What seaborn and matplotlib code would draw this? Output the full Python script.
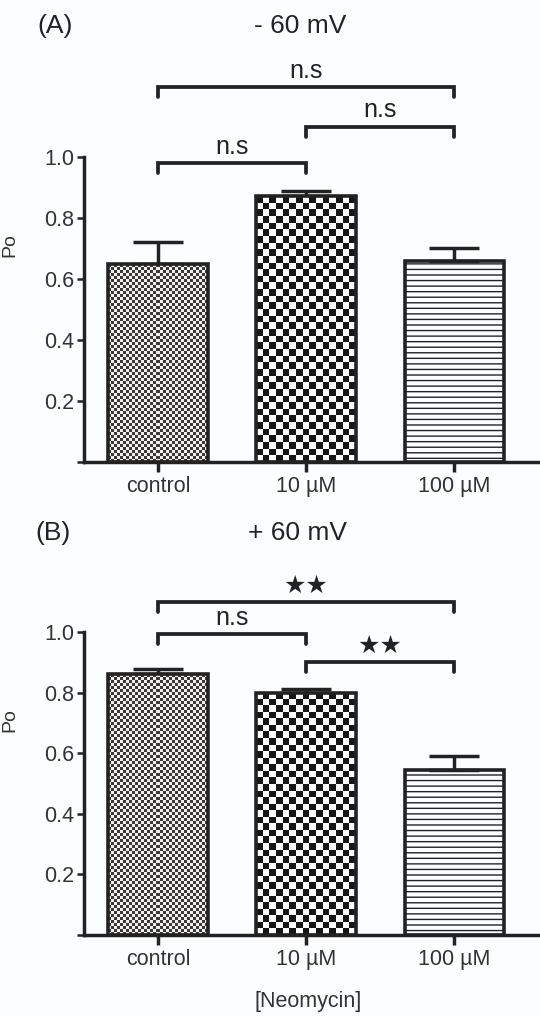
import numpy as np
import pandas as pd
import seaborn as sns
import matplotlib.pyplot as plt
from matplotlib.colors import ListedColormap

# datos
groups = ['control', '10 µM', '100 µM']
po_neg60 = [0.648, 0.872, 0.659]
err_neg60 = [0.074, 0.017, 0.043]
po_pos60 = [0.861, 0.799, 0.545]
err_pos60 = [0.017, 0.013, 0.046]

# comparaciones (índice a, índice b, etiqueta)
comp_neg60 = [(0, 1, 'n.s'), (1, 2, 'n.s'), (0, 2, 'n.s')]
comp_pos60 = [(0, 1, 'n.s'), (1, 2, '★★'), (0, 2, '★★')]
yticks = [0, 0.2, 0.4, 0.6, 0.8, 1.0]
ytick_labels = ['', '0.2', '0.4', '0.6', '0.8', '1.0']

# alturas de los corchetes (maquetación)
bracket_y_neg60 = [0.98, 1.10, 1.23]
bracket_y_pos60 = [0.993, 0.90, 1.10]

sns.set_style('ticks')
plt.rcParams['font.family'] = ['Liberation Sans', 'DejaVu Sans']

INK = '#222222'
BG = '#fcfdff'


def checker_fill(ax, patch, sq_px, dark, light):
    x0, y0 = patch.get_x(), patch.get_y()
    w, h = patch.get_width(), patch.get_height()
    (px0, py0), (px1, py1) = ax.transData.transform([(x0, y0), (x0 + w, y0 + h)])
    nx = max(1, int(round((px1 - px0) / sq_px)))
    ny = max(1, int(round((py1 - py0) / sq_px)))
    grid = np.add.outer(np.arange(ny), np.arange(nx)) % 2
    im = ax.imshow(grid, cmap=ListedColormap([light, dark]),
                   extent=(x0, x0 + w, y0, y0 + h), origin='lower',
                   interpolation='nearest', aspect='auto', zorder=2)
    im.set_clip_path(patch)


def panel(ax, values, errors, comps, heights):
    df = pd.DataFrame({'grupo': groups, 'Po': values})
    sns.barplot(data=df, x='grupo', y='Po', order=groups, width=0.67,
                color='white', edgecolor=INK, linewidth=2.6,
                errorbar=None, ax=ax, zorder=3)
    ax.set_xlim(-0.5, 2.58)
    ax.set_ylim(0, 1.0)

    bars = ax.patches[:3]
    for p in bars:
        p.set_facecolor('none')
    checker_fill(ax, bars[0], 3.0, '#3a3a3a', '#f2eeea')
    checker_fill(ax, bars[1], 6.6, '#161616', '#ffffff')
    bars[2].set_hatch('---')

    ax.errorbar(range(len(groups)), values, yerr=[np.zeros(len(errors)), errors],
                fmt='none', ecolor=INK, elinewidth=2.5, capsize=18,
                capthick=2.5, zorder=1)

    tip = 0.033
    for (a, b, lab), y in zip(comps, heights):
        ax.plot([a, a, b, b], [y - tip, y, y, y - tip], color=INK, lw=2.7,
                clip_on=False, solid_joinstyle='miter')
        ax.annotate(lab, xy=((a + b) / 2, y), xytext=(0, 6.5),
                    textcoords='offset points', ha='center', va='baseline',
                    fontsize=18, color=INK, annotation_clip=False)

    sns.despine(ax=ax)
    for s in ['left', 'bottom']:
        ax.spines[s].set_linewidth(2.5)
        ax.spines[s].set_color(INK)
    ax.set_yticks(yticks)
    ax.set_yticklabels(ytick_labels)
    ax.tick_params(axis='y', length=5, width=1.8, color=INK, pad=2,
                   labelsize=15.5, labelcolor='#333333')
    ax.tick_params(axis='x', length=7, width=2.5, color=INK, pad=3,
                   labelsize=15.5, labelcolor='#333333')
    ax.set_xlabel('')
    ax.set_ylabel('Po', fontsize=14, color='#333333')
    ax.yaxis.set_label_coords(-0.145, 0.71)
    ax.set_facecolor(BG)


fig = plt.figure(figsize=(5.4, 10.16), dpi=100, facecolor=BG)
ax_a = fig.add_axes([84 / 540, 1 - 462 / 1016, 456 / 540, 305 / 1016])
ax_b = fig.add_axes([84 / 540, 1 - 935 / 1016, 456 / 540, 303 / 1016])

panel(ax_a, po_neg60, err_neg60, comp_neg60, bracket_y_neg60)
panel(ax_b, po_pos60, err_pos60, comp_pos60, bracket_y_pos60)

fig.text(37 / 540, 1 - 26 / 1016, '(A)', ha='left', va='center', fontsize=19, color=INK)
fig.text(300 / 540, 1 - 26 / 1016, '- 60 mV', ha='center', va='center', fontsize=19, color=INK)
fig.text(35 / 540, 1 - 533 / 1016, '(B)', ha='left', va='center', fontsize=19, color=INK)
fig.text(297 / 540, 1 - 533 / 1016, '+ 60 mV', ha='center', va='center', fontsize=19, color=INK)
fig.text(308 / 540, 1 - 1002 / 1016, '[Neomycin]', ha='center', va='center', fontsize=15.5, color='#333333')

fig.savefig('out.png', dpi=100, facecolor=BG)
